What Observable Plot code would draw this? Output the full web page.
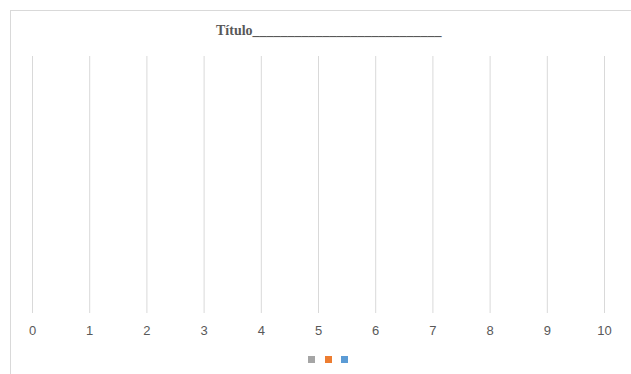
<!DOCTYPE html>
<html>
<head>
<meta charset="utf-8">
<script src="https://cdn.jsdelivr.net/npm/d3@7"></script>
<script src="https://cdn.jsdelivr.net/npm/@observablehq/plot@0.6"></script>
<style>
  html, body { margin: 0; padding: 0; background: #fff; overflow: hidden; }
  #wrap { position: relative; width: 631px; height: 374px; }
  #frame { position: absolute; left: 10px; top: 10px; width: 700px; height: 500px; border: 1px solid #d9d9d9; box-sizing: border-box; }
  #title { position: absolute; left: 216px; top: 24px; font-family: "Liberation Serif", serif; font-weight: bold; font-size: 14px; color: #595959; white-space: nowrap; line-height: 1; }
  #chart { position: absolute; left: 0; top: 0; }
  #legend { position: absolute; left: 308px; top: 356px; }
  .lg-swatches { margin: 0 !important; min-height: 0 !important; font-size: 10px !important; }
  .lg-swatch { margin-right: 9.5px !important; }
  .lg-swatch > svg { margin-right: 0 !important; }
  #chart svg text { fill: #595959; }
</style>
</head>
<body>
<div id="wrap">
  <div id="frame"></div>
  <div id="title"></div>
  <div id="chart"></div>
  <div id="legend"></div>
</div>
<script>
const titleText = "Título___________________________";
const xTicks = [0, 1, 2, 3, 4, 5, 6, 7, 8, 9, 10];
const seriesNames = ["Serie 1", "Serie 2", "Serie 3"];
const seriesColors = ["#a5a5a5", "#ed7d31", "#5b9bd5"];

document.getElementById("title").textContent = titleText;

const chart = Plot.plot({
  width: 631,
  height: 345,
  marginTop: 56,
  marginBottom: 32,
  marginLeft: 32,
  marginRight: 27,
  style: { fontFamily: "'Liberation Sans', sans-serif", fontSize: "13px", color: "#595959", background: "transparent" },
  x: { domain: [0, 10], ticks: xTicks, tickSize: 0, tickPadding: 12, tickFormat: d => String(d) },
  marks: [
    Plot.ruleX(xTicks, { stroke: "#d9d9d9", strokeWidth: 1 })
  ]
});
document.getElementById("chart").appendChild(chart);

const legend = Plot.legend({
  color: { type: "ordinal", domain: seriesNames, range: seriesColors },
  swatchSize: 7,
  className: "lg",
  tickFormat: () => ""
});
document.getElementById("legend").appendChild(legend);
</script>
</body>
</html>
